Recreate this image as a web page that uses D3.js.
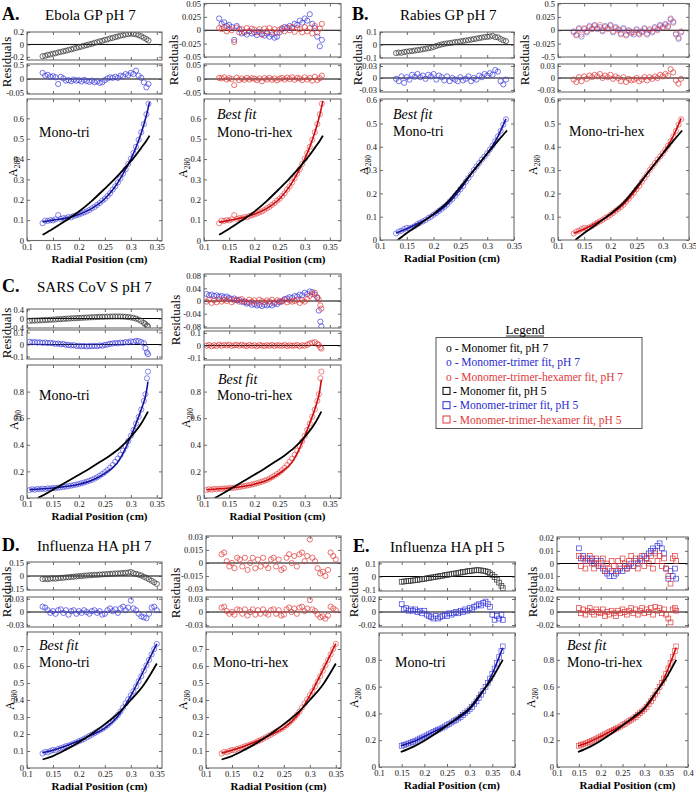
<!DOCTYPE html>
<html><head><meta charset="utf-8">
<script src="https://cdn.jsdelivr.net/npm/d3@7"></script>
<style>
body{margin:0;background:#fff;}
svg{display:block;font-family:"Liberation Serif","Times New Roman",serif;}
</style></head><body>
<svg id="c" width="696" height="793" font-family="'Liberation Serif', 'Times New Roman', serif"></svg>
<script>
// ---------------- DATA ----------------
// Row A: Ebola GP pH 7
const rA = [0.130,0.135,0.140,0.145,0.150,0.155,0.160,0.165,0.170,0.175,0.180,0.185,0.190,0.195,0.200,0.205,0.210,0.215,0.220,0.225,0.230,0.235,0.240,0.245,0.250,0.255,0.260,0.265,0.270,0.275,0.280,0.285,0.290,0.295,0.300,0.305,0.310,0.315,0.320,0.325,0.330,0.334];
const a280A = [0.085,0.098,0.096,0.100,0.099,0.104,0.125,0.106,0.110,0.109,0.115,0.114,0.120,0.124,0.128,0.133,0.138,0.143,0.150,0.158,0.165,0.175,0.184,0.196,0.205,0.218,0.232,0.250,0.266,0.285,0.305,0.328,0.350,0.376,0.402,0.430,0.460,0.495,0.532,0.572,0.620,0.672];
const resMonoA = [-0.190,-0.182,-0.168,-0.161,-0.149,-0.142,-0.128,-0.121,-0.109,-0.101,-0.088,-0.079,-0.066,-0.057,-0.044,-0.035,-0.021,-0.012,0.001,0.011,0.025,0.035,0.049,0.059,0.073,0.082,0.096,0.105,0.119,0.127,0.141,0.149,0.161,0.167,0.173,0.169,0.163,0.149,0.131,0.109,0.086,0.064];
const resTriA = [0.022,0.012,0.015,0.008,0.010,0.006,-0.018,0.008,0.002,-0.006,-0.004,-0.008,-0.002,-0.006,-0.004,-0.009,-0.003,-0.007,-0.010,-0.006,-0.012,-0.008,-0.014,-0.012,-0.004,0.002,0.006,0.004,0.008,0.004,0.012,0.010,0.018,0.014,0.022,0.018,0.030,0.012,0.004,-0.012,-0.030,-0.018];
const resHexA = [0.004,0.002,0.006,-0.002,0.003,0.000,-0.022,0.005,-0.004,0.002,-0.003,0.004,-0.002,0.003,0.001,-0.004,0.002,-0.008,0.003,-0.002,0.004,-0.003,0.002,-0.005,0.001,0.004,-0.002,0.005,0.000,0.006,-0.003,0.004,0.002,-0.004,0.006,-0.002,0.004,-0.006,0.008,-0.004,0.003,0.012];
const fitMonoA_r = [0.13,0.15,0.175,0.2,0.225,0.25,0.27,0.29,0.30,0.31,0.32,0.33,0.336];
const fitMonoA = [0.028,0.058,0.098,0.142,0.195,0.255,0.305,0.360,0.390,0.420,0.455,0.490,0.515];
const fitBestA_r = [0.13,0.15,0.175,0.2,0.225,0.25,0.27,0.29,0.30,0.31,0.32,0.33,0.336];
const fitTriA = [0.092,0.100,0.110,0.128,0.158,0.205,0.265,0.350,0.400,0.458,0.528,0.615,0.680];
const fitHexA = [0.090,0.099,0.111,0.129,0.158,0.205,0.266,0.350,0.401,0.460,0.530,0.618,0.685];

// Row B: Rabies GP pH 7
const rB = [0.130,0.135,0.140,0.145,0.150,0.155,0.160,0.165,0.170,0.175,0.180,0.185,0.190,0.195,0.200,0.205,0.210,0.215,0.220,0.225,0.230,0.235,0.240,0.245,0.250,0.255,0.260,0.265,0.270,0.275,0.280,0.285,0.290,0.295,0.300,0.305,0.310,0.315,0.320,0.325,0.330,0.335];
const a280B = [0.028,0.036,0.040,0.047,0.052,0.050,0.054,0.060,0.068,0.074,0.080,0.086,0.094,0.100,0.108,0.116,0.125,0.133,0.142,0.152,0.165,0.176,0.190,0.203,0.218,0.232,0.250,0.266,0.282,0.300,0.315,0.330,0.345,0.358,0.372,0.388,0.405,0.424,0.445,0.468,0.495,0.518];
const resMonoB = [-0.066,-0.062,-0.064,-0.058,-0.055,-0.052,-0.050,-0.046,-0.043,-0.040,-0.036,-0.032,-0.028,-0.024,-0.018,-0.010,-0.004,0.002,0.006,0.010,0.013,0.016,0.020,0.023,0.026,0.030,0.033,0.036,0.040,0.044,0.048,0.052,0.056,0.060,0.062,0.064,0.070,0.060,0.058,0.045,0.035,0.028];
const resTriB = [-0.002,-0.008,0.004,-0.012,0.002,-0.004,0.008,0.003,0.010,0.002,0.006,-0.002,0.008,0.004,0.010,-0.004,0.006,0.002,-0.006,0.004,-0.008,0.000,-0.004,-0.008,0.002,-0.006,-0.002,0.004,-0.008,0.000,-0.004,0.006,0.002,0.010,0.006,0.012,0.008,0.020,0.016,-0.008,-0.016,-0.004];
const resHexB = [-0.004,-0.010,0.002,-0.008,0.004,-0.002,0.006,0.002,0.008,0.004,0.010,0.000,0.006,0.002,0.008,-0.002,0.004,0.000,-0.008,0.002,-0.010,-0.002,-0.006,-0.004,0.000,-0.008,-0.004,0.002,-0.006,0.002,-0.002,0.004,0.000,0.008,0.004,0.010,0.006,0.022,0.014,-0.006,-0.014,-0.002];
const fitMonoB_r = [0.133,0.15,0.175,0.2,0.225,0.25,0.275,0.3,0.32,0.337];
const fitMonoB = [0.0,0.030,0.070,0.112,0.160,0.228,0.298,0.370,0.425,0.470];
const fitBestB_r = [0.13,0.15,0.175,0.2,0.225,0.25,0.275,0.3,0.31,0.32,0.335];
const fitTriB = [0.030,0.048,0.076,0.108,0.152,0.218,0.300,0.372,0.405,0.445,0.520];
const fitHexB = [0.029,0.047,0.076,0.108,0.153,0.219,0.300,0.372,0.406,0.446,0.522];

// Row C: SARS CoV S pH 7
const rC = [0.105,0.110,0.115,0.120,0.125,0.130,0.135,0.140,0.145,0.150,0.155,0.160,0.165,0.170,0.175,0.180,0.185,0.190,0.195,0.200,0.205,0.210,0.215,0.220,0.225,0.230,0.235,0.240,0.245,0.250,0.255,0.260,0.265,0.270,0.275,0.280,0.285,0.290,0.295,0.300,0.305,0.310,0.315,0.320,0.325,0.328,0.331,0.333];
const a280C = [0.060,0.066,0.062,0.068,0.066,0.070,0.068,0.072,0.071,0.075,0.074,0.078,0.080,0.083,0.086,0.090,0.093,0.097,0.101,0.106,0.111,0.117,0.123,0.130,0.137,0.146,0.156,0.168,0.180,0.194,0.210,0.228,0.248,0.272,0.296,0.324,0.356,0.390,0.428,0.468,0.512,0.560,0.610,0.665,0.730,0.780,0.900,0.950];
const resMonoC = [-0.100,-0.095,-0.090,-0.085,-0.080,-0.075,-0.068,-0.062,-0.055,-0.048,-0.040,-0.034,-0.026,-0.018,-0.010,-0.004,0.004,0.010,0.018,0.024,0.030,0.036,0.042,0.048,0.054,0.060,0.065,0.070,0.074,0.078,0.082,0.085,0.088,0.090,0.090,0.088,0.084,0.076,0.064,0.048,0.026,-0.004,-0.050,-0.110,-0.190,-0.250,-0.310,-0.350];
const resTriC = [0.022,0.018,0.020,0.016,0.018,0.014,0.016,0.012,0.014,0.010,0.006,0.008,0.002,0.004,-0.002,-0.004,-0.008,-0.006,-0.012,-0.010,-0.014,-0.012,-0.016,-0.012,-0.014,-0.010,-0.014,-0.008,-0.010,-0.004,0.000,0.006,0.008,0.012,0.010,0.016,0.014,0.020,0.018,0.026,0.022,0.030,0.028,0.020,0.010,-0.030,-0.065,-0.080];
const resHexC = [-0.002,0.004,-0.006,0.002,-0.004,0.006,-0.002,0.004,0.000,0.006,-0.004,0.002,0.004,-0.002,0.006,0.000,-0.004,0.004,-0.002,0.002,-0.006,0.004,0.000,-0.004,0.002,-0.002,0.004,-0.004,0.002,0.000,-0.002,0.004,-0.004,0.002,-0.002,0.000,0.004,-0.006,0.002,-0.002,0.006,0.016,0.022,0.026,0.012,0.004,-0.014,-0.024];
const fitMonoC_r = [0.121,0.14,0.16,0.18,0.2,0.22,0.24,0.26,0.28,0.3,0.32,0.333];
const fitMonoC = [0.0,0.040,0.085,0.130,0.175,0.220,0.270,0.320,0.380,0.460,0.560,0.650];
const fitBestC_r = [0.105,0.15,0.2,0.225,0.25,0.275,0.29,0.3,0.305,0.31,0.32,0.33,0.333];
const fitTriC = [0.063,0.075,0.103,0.133,0.185,0.270,0.375,0.465,0.510,0.560,0.665,0.800,0.875];
const fitHexC = [0.062,0.075,0.104,0.134,0.186,0.270,0.376,0.466,0.512,0.562,0.668,0.810,0.890];

// Row D: Influenza HA pH 7
const rD = [0.130,0.135,0.140,0.145,0.150,0.155,0.160,0.165,0.170,0.175,0.180,0.185,0.190,0.195,0.200,0.205,0.210,0.215,0.220,0.225,0.230,0.235,0.240,0.245,0.250,0.255,0.260,0.265,0.270,0.275,0.280,0.285,0.290,0.295,0.300,0.305,0.310,0.315,0.320,0.325,0.330,0.335,0.340,0.345,0.350];
const a280D = [0.085,0.095,0.092,0.100,0.106,0.104,0.112,0.116,0.122,0.128,0.132,0.138,0.144,0.150,0.158,0.164,0.172,0.180,0.188,0.196,0.205,0.214,0.222,0.230,0.240,0.252,0.266,0.280,0.296,0.312,0.332,0.356,0.380,0.404,0.428,0.452,0.480,0.510,0.540,0.572,0.604,0.636,0.668,0.700,0.730];
const resMonoD = [-0.035,-0.032,-0.036,-0.030,-0.028,-0.030,-0.025,-0.022,-0.020,-0.016,-0.014,-0.010,-0.008,-0.004,-0.002,0.000,0.004,0.006,0.008,0.010,0.012,0.014,0.016,0.018,0.020,0.022,0.024,0.026,0.028,0.030,0.032,0.034,0.036,0.040,0.046,0.032,0.024,0.016,0.006,-0.008,-0.022,-0.038,-0.054,-0.072,-0.090];
const resTriD = [0.012,0.010,0.004,-0.002,0.002,-0.004,0.004,0.006,-0.002,0.004,-0.006,0.002,0.004,-0.004,0.002,-0.002,0.004,0.000,-0.004,0.002,0.004,-0.002,0.002,-0.006,-0.004,0.004,0.008,0.002,0.006,-0.002,0.008,0.012,0.004,0.010,0.026,0.008,0.004,-0.004,-0.010,-0.012,-0.014,-0.004,0.010,0.012,0.004];
const resHexD = [0.010,0.012,0.002,-0.004,0.000,-0.006,0.006,0.004,-0.004,0.006,-0.008,0.000,0.006,-0.006,0.004,-0.004,0.006,-0.002,-0.006,0.004,0.006,-0.004,0.004,-0.008,-0.006,0.006,0.010,0.000,0.008,-0.004,0.010,0.012,0.002,0.008,0.027,0.006,0.002,-0.006,-0.012,-0.010,-0.015,-0.008,0.012,0.008,0.004];
const fitMonoD_r = [0.13,0.15,0.175,0.2,0.225,0.25,0.275,0.3,0.325,0.35];
const fitMonoD = [0.050,0.070,0.108,0.152,0.202,0.258,0.320,0.400,0.490,0.615];
const fitBestD_r = [0.13,0.15,0.175,0.2,0.225,0.25,0.275,0.3,0.325,0.35];
const fitTriD = [0.090,0.105,0.130,0.160,0.195,0.235,0.305,0.425,0.575,0.730];
const fitHexD = [0.088,0.104,0.130,0.160,0.196,0.236,0.306,0.426,0.576,0.732];

// Row E: Influenza HA pH 5 (squares)
const rE = [0.150,0.155,0.160,0.165,0.170,0.175,0.180,0.185,0.190,0.195,0.200,0.205,0.210,0.215,0.220,0.225,0.230,0.235,0.240,0.245,0.250,0.255,0.260,0.265,0.270,0.275,0.280,0.285,0.290,0.295,0.300,0.305,0.310,0.315,0.320,0.325,0.330,0.335,0.340,0.345,0.350,0.355,0.360,0.365,0.370,0.373];
const a280E = [0.158,0.165,0.170,0.176,0.182,0.188,0.196,0.204,0.212,0.220,0.228,0.236,0.244,0.252,0.262,0.270,0.278,0.286,0.294,0.302,0.312,0.322,0.332,0.342,0.352,0.362,0.374,0.388,0.402,0.416,0.430,0.448,0.468,0.490,0.514,0.540,0.568,0.598,0.628,0.660,0.696,0.735,0.778,0.820,0.865,0.900];
const resMonoE = [-0.040,-0.038,-0.036,-0.034,-0.032,-0.030,-0.028,-0.026,-0.022,-0.020,-0.018,-0.014,-0.012,-0.008,-0.006,-0.002,0.000,0.004,0.006,0.010,0.012,0.016,0.018,0.022,0.024,0.028,0.030,0.034,0.036,0.040,0.042,0.044,0.046,0.048,0.048,0.046,0.044,0.040,0.034,0.024,0.012,-0.004,-0.024,-0.046,-0.070,-0.088];
const resTriE = [0.012,0.004,0.006,0.002,0.004,0.002,0.004,0.000,0.002,-0.002,0.002,-0.004,-0.006,-0.008,-0.010,-0.006,-0.010,-0.008,-0.006,-0.004,-0.006,-0.002,-0.004,-0.002,0.000,-0.002,0.002,0.000,0.004,0.002,0.006,0.004,0.008,0.010,0.012,0.010,0.014,0.016,0.012,0.008,-0.004,-0.012,-0.006,-0.010,-0.004,-0.012];
const resHexE = [0.006,-0.002,0.004,-0.004,0.002,0.006,0.000,-0.004,0.004,0.000,-0.002,0.004,-0.006,0.000,-0.004,0.002,-0.002,-0.006,0.002,-0.002,0.004,0.000,-0.004,0.002,0.006,-0.002,0.004,-0.004,0.002,0.006,-0.002,0.004,0.000,0.006,-0.004,0.008,0.002,0.006,-0.002,0.004,-0.004,-0.010,-0.016,0.004,0.006,0.002];
const fitMonoE_r = [0.148,0.175,0.2,0.225,0.25,0.275,0.3,0.325,0.35,0.373];
const fitMonoE = [0.112,0.150,0.196,0.250,0.310,0.372,0.440,0.550,0.665,0.800];
const fitBestE_r = [0.148,0.175,0.2,0.225,0.25,0.275,0.3,0.325,0.35,0.36,0.373];
const fitTriE = [0.158,0.188,0.228,0.270,0.312,0.362,0.430,0.540,0.696,0.778,0.890];
const fitHexE = [0.157,0.188,0.228,0.270,0.312,0.362,0.430,0.541,0.697,0.779,0.892];

// Tick values and labels
const xTicks = [0.1,0.15,0.2,0.25,0.3,0.35];
const xTickLabels = ["0.1","0.15","0.2","0.25","0.3","0.35"];
const xTicksE = [0.1,0.15,0.2,0.25,0.3,0.35,0.4];
const xTickLabelsE = ["0.1","0.15","0.2","0.25","0.3","0.35","0.4"];
const yTicksA = [0,0.1,0.2,0.3,0.4,0.5,0.6];
const yTicksB = [0,0.1,0.2,0.3,0.4,0.5,0.6];
const yTicksC = [0,0.2,0.4,0.6,0.8];
const yTicksD = [0,0.1,0.2,0.3,0.4,0.5,0.6,0.7];
const yTicksE = [0,0.2,0.4,0.6,0.8];
const resTicksAL1 = [0.2,0,-0.2], resLabelsAL1 = ["0.2","0","-0.2"];
const resTicksAL2 = [0.05,0,-0.05], resLabelsAL2 = ["0.5","0","-0.05"];
const resTicksAR1 = [0.05,0.025,0,-0.025,-0.05], resLabelsAR1 = ["0.05","0.025","0","-0.025","-0.05"];
const resTicksAR2 = [0.05,0,-0.05], resLabelsAR2 = ["0.05","0","-0.05"];
const resTicksBL1 = [0.1,0,-0.1], resLabelsBL1 = ["0.1","0","-0.1"];
const resTicksB2 = [0.03,0,-0.03], resLabelsB2 = ["0.03","0","-0.03"];
const resTicksBR1 = [0.05,0.025,0,-0.025,-0.05], resLabelsBR1 = ["0.5","0.025","0","-0.025","-0.5"];
const resTicksCL1 = [0.4,0,-0.4], resLabelsCL1 = ["0.4","0","-0.4"];
const resTicksC2 = [0.1,0,-0.1], resLabelsC2 = ["0.1","0","-0.1"];
const resTicksCR1 = [0.08,0.04,0,-0.04,-0.08], resLabelsCR1 = ["0.08","0.04","0","-0.04","-0.08"];
const resTicksDL1 = [0.15,0,-0.15], resLabelsDL1 = ["0.15","0","-0.15"];
const resTicksD2 = [0.03,0,-0.03], resLabelsD2 = ["0.03","0","-0.03"];
const resTicksDR1 = [0.03,0.015,0,-0.015,-0.03], resLabelsDR1 = ["0.03","0.015","0","-0.015","-0.03"];
const resTicksEL1 = [0.1,0,-0.1], resLabelsEL1 = ["0.1","0","-0.1"];
const resTicksE2 = [0.02,0,-0.02], resLabelsE2 = ["0.02","0","-0.02"];
const resTicksER1 = [0.02,0.01,0,-0.01,-0.02], resLabelsER1 = ["0.02","0.01","0","-0.01","-0.02"];

const panelTitles = ["Ebola GP pH 7","Rabies GP pH 7","SARS CoV S pH 7","Influenza HA pH 7","Influenza HA pH 5"];
const panelLetters = ["A.","B.","C.","D.","E."];
const legendLabels = ["- Monomer fit, pH 7","- Monomer-trimer fit, pH 7","- Monomer-trimer-hexamer fit, pH 7","- Monomer fit, pH 5","- Monomer-trimer fit, pH 5","- Monomer-trimer-hexamer fit, pH 5"];

// ---------------- DRAWING ----------------
const FONT = "'Liberation Serif', 'Times New Roman', serif";
const BLUE="#3b3bdc", BLUE_LINE="#1414a0", RED="#e03838", RED_LINE="#cc0c0c", GREY="#333";
const svg = d3.select("#c");
let clipN = 0;

const rows = {
  A:{r:rA,a:a280A,mono:resMonoA,tri:resTriA,hex:resHexA,fmr:fitMonoA_r,fm:fitMonoA,fbr:fitBestA_r,ftri:fitTriA,fhex:fitHexA,shape:"c"},
  B:{r:rB,a:a280B,mono:resMonoB,tri:resTriB,hex:resHexB,fmr:fitMonoB_r,fm:fitMonoB,fbr:fitBestB_r,ftri:fitTriB,fhex:fitHexB,shape:"c"},
  C:{r:rC,a:a280C,mono:resMonoC,tri:resTriC,hex:resHexC,fmr:fitMonoC_r,fm:fitMonoC,fbr:fitBestC_r,ftri:fitTriC,fhex:fitHexC,shape:"c"},
  D:{r:rD,a:a280D,mono:resMonoD,tri:resTriD,hex:resHexD,fmr:fitMonoD_r,fm:fitMonoD,fbr:fitBestD_r,ftri:fitTriD,fhex:fitHexD,shape:"c"},
  E:{r:rE,a:a280E,mono:resMonoE,tri:resTriE,hex:resHexE,fmr:fitMonoE_r,fm:fitMonoE,fbr:fitBestE_r,ftri:fitTriE,fhex:fitHexE,shape:"s"}
};

const panels = [
 {k:"A",side:"L",x0:27,x1:162,xd:[0.1,0.36],xt:xTicks,xl:xTickLabels,
  r1:[32,60],d1:[-0.25,0.2],t1:resTicksAL1,l1:resLabelsAL1,s1:[["mono",GREY]],
  r2:[64,94],d2:[-0.054,0.054],t2:resTicksAL2,l2:resLabelsAL2,s2:[["tri",BLUE]],
  m:[99,240.5],dm:[0,0.695],tm:yTicksA,fit:"ftri",pc:BLUE,lc:BLUE_LINE,
  txt:[["Mono-tri",39,137,false]],res:[11,62],al:[17,167]},
 {k:"A",side:"R",x0:204,x1:341,xd:[0.1,0.372],xt:xTicks,xl:xTickLabels,
  r1:[3.5,57],d1:[-0.05,0.05],t1:resTicksAR1,l1:resLabelsAR1,s1:[["tri",BLUE],["hex",RED]],
  r2:[64,94],d2:[-0.054,0.054],t2:resTicksAR2,l2:resLabelsAR2,s2:[["hex",RED]],
  m:[99,240.5],dm:[0,0.695],tm:yTicksA,fit:"fhex",pc:RED,lc:RED_LINE,
  txt:[["Best fit",217,119,true],["Mono-tri-hex",217,137,false]],res:[178,60],al:[187,168]},
 {k:"B",side:"L",x0:380,x1:514,xd:[0.1,0.35],xt:xTicks,xl:xTickLabels,
  r1:[32,58],d1:[-0.105,0.1],t1:resTicksBL1,l1:resLabelsBL1,s1:[["mono",GREY]],
  r2:[64,92],d2:[-0.035,0.035],t2:resTicksB2,l2:resLabelsB2,s2:[["tri",BLUE]],
  m:[99,240],dm:[0,0.605],tm:yTicksB,fit:"ftri",pc:BLUE,lc:BLUE_LINE,
  txt:[["Best fit",393,119,true],["Mono-tri",393,136,false]],res:[362,60],al:[368,165]},
 {k:"B",side:"R",x0:558,x1:689,xd:[0.1,0.35],xt:xTicks,xl:xTickLabels,
  r1:[3.5,57],d1:[-0.05,0.05],t1:resTicksBR1,l1:resLabelsBR1,s1:[["tri",BLUE,0.7],["hex",RED,0.7]],
  r2:[64,92],d2:[-0.035,0.035],t2:resTicksB2,l2:resLabelsB2,s2:[["hex",RED]],
  m:[99,240],dm:[0,0.605],tm:yTicksB,fit:"fhex",pc:RED,lc:RED_LINE,
  txt:[["Mono-tri-hex",569,136,false]],res:[529,60],al:[537,165]},
 {k:"C",side:"L",x0:27,x1:162,xd:[0.1,0.36],xt:xTicks,xl:xTickLabels,
  r1:[309,328],d1:[-0.42,0.42],t1:resTicksCL1,l1:resLabelsCL1,s1:[["mono",GREY]],
  r2:[330,359],d2:[-0.12,0.12],t2:resTicksC2,l2:resLabelsC2,s2:[["tri",BLUE]],
  m:[365,498],dm:[0,1.0],tm:yTicksC,fit:"ftri",pc:BLUE,lc:BLUE_LINE,
  txt:[["Mono-tri",39,400,false]],res:[11,333],al:[18,420]},
 {k:"C",side:"R",x0:204,x1:341,xd:[0.1,0.372],xt:xTicks,xl:xTickLabels,
  r1:[274,328],d1:[-0.085,0.085],t1:resTicksCR1,l1:resLabelsCR1,s1:[["tri",BLUE],["hex",RED]],
  r2:[331,360],d2:[-0.115,0.115],t2:resTicksC2,l2:resLabelsC2,s2:[["hex",RED]],
  m:[365,498],dm:[0,1.0],tm:yTicksC,fit:"fhex",pc:RED,lc:RED_LINE,
  txt:[["Best fit",218,384,true],["Mono-tri-hex",217,400,false]],res:[180,320],al:[190,418]},
 {k:"D",side:"L",x0:27,x1:162,xd:[0.1,0.36],xt:xTicks,xl:xTickLabels,
  r1:[562,590],d1:[-0.16,0.16],t1:resTicksDL1,l1:resLabelsDL1,s1:[["mono",GREY]],
  r2:[597,627],d2:[-0.034,0.034],t2:resTicksD2,l2:resLabelsD2,s2:[["tri",BLUE]],
  m:[632,768],dm:[0,0.8],tm:yTicksD,fit:"ftri",pc:BLUE,lc:BLUE_LINE,
  txt:[["Best fit",39,650,true],["Mono-tri",39,667,false]],res:[11,592],al:[14,700]},
 {k:"D",side:"R",x0:206,x1:341,xd:[0.1,0.36],xt:xTicks,xl:xTickLabels,
  r1:[536,590],d1:[-0.031,0.031],t1:resTicksDR1,l1:resLabelsDR1,s1:[["hex",RED]],
  r2:[597,627],d2:[-0.034,0.034],t2:resTicksD2,l2:resLabelsD2,s2:[["hex",RED]],
  m:[632,768],dm:[0,0.8],tm:yTicksD,fit:"fhex",pc:RED,lc:RED_LINE,
  txt:[["Mono-tri-hex",213,667,false]],res:[180,593],al:[187,700]},
 {k:"E",side:"L",x0:379,x1:515,xd:[0.1,0.4],xt:xTicksE,xl:xTickLabelsE,
  r1:[562,591],d1:[-0.11,0.11],t1:resTicksEL1,l1:resLabelsEL1,s1:[["mono",GREY]],
  r2:[597,627],d2:[-0.023,0.023],t2:resTicksE2,l2:resLabelsE2,s2:[["tri",BLUE]],
  m:[633,767],dm:[0,1.0],tm:yTicksE,fit:"ftri",pc:BLUE,lc:BLUE_LINE,
  txt:[["Mono-tri",395,667,false]],res:[358,592],al:[358,698]},
 {k:"E",side:"R",x0:557,x1:688,xd:[0.1,0.4],xt:xTicksE,xl:xTickLabelsE,
  r1:[537,590],d1:[-0.021,0.021],t1:resTicksER1,l1:resLabelsER1,s1:[["tri",BLUE],["hex",RED]],
  r2:[597,627],d2:[-0.023,0.023],t2:resTicksE2,l2:resLabelsE2,s2:[["hex",RED]],
  m:[633,767],dm:[0,1.0],tm:yTicksE,fit:"fhex",pc:RED,lc:RED_LINE,
  txt:[["Best fit",567,650,true],["Mono-tri-hex",567,667,false]],res:[537,592],al:[535,698]}
];

function frame(g, x, y, xt, xl, yt, yl, showX){
  const yb = y.range()[0], ytop = y.range()[1];
  const [xa, xb] = x.range();
  const style = a => { a.select(".domain").remove();
    a.attr("font-family",FONT).attr("font-size",8.5);
    a.selectAll(".tick line").attr("stroke","#444").attr("stroke-width",0.8);
    a.selectAll(".tick text").attr("fill","#111"); };
  g.append("g").attr("transform",`translate(0,${yb})`)
    .call(d3.axisBottom(x).tickValues(xt).tickSize(-3).tickPadding(3).tickFormat((d,i)=> showX ? xl[i] : "")).call(style);
  g.append("g").attr("transform",`translate(0,${ytop})`)
    .call(d3.axisTop(x).tickValues(xt).tickSize(-3).tickFormat("")).call(style);
  g.append("g").attr("transform",`translate(${xa},0)`)
    .call(d3.axisLeft(y).tickValues(yt).tickSize(-3).tickPadding(3).tickFormat((d,i)=>yl[i])).call(style);
  g.append("g").attr("transform",`translate(${xb},0)`)
    .call(d3.axisRight(y).tickValues(yt).tickSize(-3).tickFormat("")).call(style);
  g.append("rect").attr("x",xa).attr("y",ytop).attr("width",xb-xa).attr("height",yb-ytop)
    .attr("fill","none").attr("stroke","#6a6a6a").attr("stroke-width",1.1);
}

function clipFor(g, x, y){
  const id = "clip"+(clipN++);
  const [xa,xb]=x.range(), yb=y.range()[0], yt=y.range()[1];
  svg.append("clipPath").attr("id",id).append("rect").attr("x",xa).attr("y",yt).attr("width",xb-xa).attr("height",yb-yt);
  return g.append("g").attr("clip-path",`url(#${id})`);
}

function markers(g, pts, x, y, color, shape, op){
  if(shape==="s"){
    g.selectAll(null).data(pts).enter().append("rect")
      .attr("x",d=>x(d[0])-2.4).attr("y",d=>y(d[1])-2.4).attr("width",4.8).attr("height",4.8)
      .attr("fill","none").attr("stroke",color).attr("stroke-width",0.7).attr("stroke-opacity",op||1);
  } else {
    g.selectAll(null).data(pts).enter().append("circle")
      .attr("cx",d=>x(d[0])).attr("cy",d=>y(d[1])).attr("r",2.6)
      .attr("fill","none").attr("stroke",color).attr("stroke-width",0.7).attr("stroke-opacity",op||1);
  }
}

panels.forEach(p=>{
  const R = rows[p.k];
  const g = svg.append("g").attr("font-family",FONT);
  const x = d3.scaleLinear().domain(p.xd).range([p.x0,p.x1]);
  [[p.r1,p.d1,p.t1,p.l1,p.s1],[p.r2,p.d2,p.t2,p.l2,p.s2]].forEach(([rr,dd,tt,ll,ss])=>{
    const y = d3.scaleLinear().domain(dd).range([rr[1],rr[0]]);
    const c = clipFor(g,x,y);
    c.append("line").attr("x1",p.x0).attr("x2",p.x1).attr("y1",y(0)).attr("y2",y(0)).attr("stroke","#000").attr("stroke-width",1);
    ss.forEach(([key,col,op])=>{
      markers(c, R.r.map((v,i)=>[v,R[key][i]]), x, y, col, R.shape, op);
    });
    frame(g,x,y,p.xt,p.xl,tt,ll,false);
  });
  const y = d3.scaleLinear().domain(p.dm).range([p.m[1],p.m[0]]);
  const c = clipFor(g,x,y);
  markers(c, R.r.map((v,i)=>[v,R.a[i]]), x, y, p.pc, R.shape, 0.85);
  const line = d3.line().x(d=>x(d[0])).y(d=>y(d[1])).curve(d3.curveMonotoneX);
  c.append("path").attr("d",line(R.fbr.map((v,i)=>[v,R[p.fit][i]]))).attr("fill","none").attr("stroke",p.lc).attr("stroke-width",1.6);
  c.append("path").attr("d",line(R.fmr.map((v,i)=>[v,R.fm[i]]))).attr("fill","none").attr("stroke","#000").attr("stroke-width",1.8);
  frame(g,x,y,p.xt,p.xl,p.tm,p.tm.map(v=>String(v)),true);
  p.txt.forEach(([t,tx,ty,it])=>{
    g.append("text").attr("x",tx).attr("y",ty).attr("font-size",14).attr("font-style",it?"italic":"normal").attr("fill","#000").text(t);
  });
  g.append("text").attr("x",(p.x0+p.x1)/2+5).attr("y",p.m[1]+22).attr("text-anchor","middle")
    .attr("font-size",11).attr("font-weight","bold").text("Radial Position (cm)");
  g.append("text").attr("transform",`translate(${p.res[0]},${p.res[1]}) rotate(-90)`).attr("text-anchor","middle")
    .attr("font-size",13).text("Residuals");
  const at = g.append("text").attr("transform",`translate(${p.al[0]},${p.al[1]}) rotate(-90)`).attr("text-anchor","middle").attr("font-size",12);
  at.append("tspan").text("A");
  at.append("tspan").attr("dy","0.35em").attr("font-size",7.5).text("280");
});

const titlePos = [[2,45,20],[352,400,20],[2,37,292],[2,37,551],[353,390,552]];
titlePos.forEach(([lx,tx,ty],i)=>{
  svg.append("text").attr("font-family",FONT).attr("x",lx).attr("y",ty).attr("font-size",18).attr("font-weight","bold").text(panelLetters[i]);
  svg.append("text").attr("font-family",FONT).attr("x",tx).attr("y",ty).attr("font-size",15).text(panelTitles[i]);
});

const lg = svg.append("g").attr("font-family",FONT);
lg.append("text").attr("x",525).attr("y",334).attr("text-anchor","middle").attr("font-size",13).text("Legend");
lg.append("line").attr("x1",506).attr("x2",544).attr("y1",336).attr("y2",336).attr("stroke","#000").attr("stroke-width",0.8);
lg.append("rect").attr("x",436).attr("y",337.5).attr("width",206).attr("height",91).attr("fill","none").attr("stroke","#555").attr("stroke-width",1);
const legColors = ["#000","#2a2ad2","#e03a3a","#000","#2a2ad2","#e03a3a"];
legendLabels.forEach((t,i)=>{
  const yy = 352 + i*14.3;
  if(i<3){
    lg.append("text").attr("x",446).attr("y",yy).attr("font-size",11.5).attr("fill",legColors[i]).text("o "+t);
  } else {
    lg.append("rect").attr("x",443).attr("y",yy-7.5).attr("width",7).attr("height",7).attr("fill","none").attr("stroke",legColors[i]).attr("stroke-width",1);
    lg.append("text").attr("x",453).attr("y",yy).attr("font-size",11.5).attr("fill",legColors[i]).text(t);
  }
});
</script>
</body></html>
